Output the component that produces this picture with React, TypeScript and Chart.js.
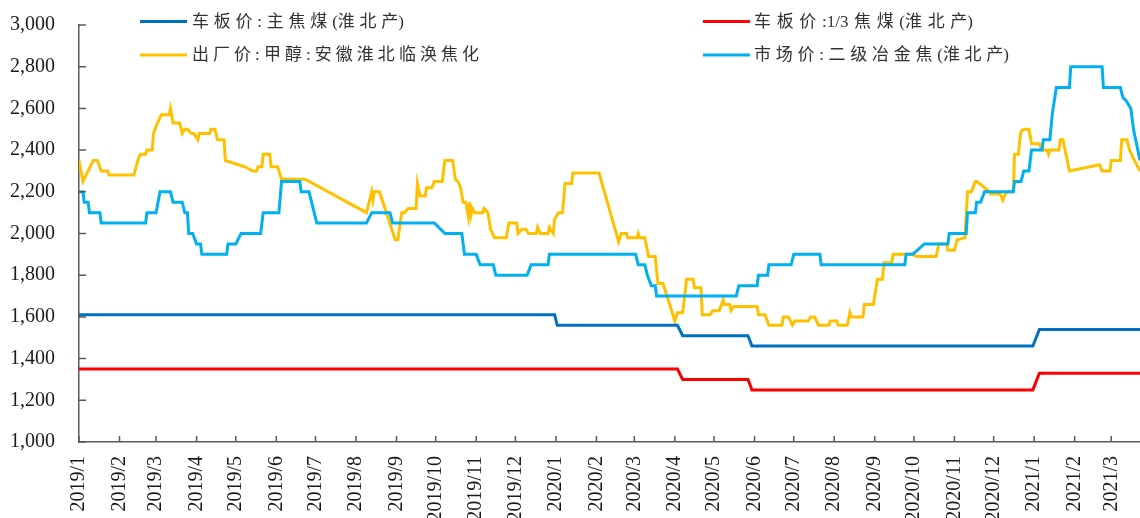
import React, { useEffect, useRef } from 'react';
import { Chart, registerables } from 'chart.js';

Chart.register(...registerables);

// ---------- DATA ----------
const SERIES_NAMES = [
  '车板价:主焦煤(淮北产)',
  '车板价:1/3焦煤(淮北产)',
  '出厂价:甲醇:安徽淮北临涣焦化',
  '市场价:二级冶金焦(淮北产)',
];

const MONTH_LABELS = [
  '2019/1', '2019/2', '2019/3', '2019/4', '2019/5', '2019/6', '2019/7', '2019/8', '2019/9', '2019/10', '2019/11', '2019/12',
  '2020/1', '2020/2', '2020/3', '2020/4', '2020/5', '2020/6', '2020/7', '2020/8', '2020/9', '2020/10', '2020/11', '2020/12',
  '2021/1', '2021/2', '2021/3',
];

const Y_MIN = 1000;
const Y_MAX = 3000;
const Y_STEP = 200;
const X_START = '2019-01-01';
const X_END = '2021-03-23';

const MAIN_COKING_COAL: [string, number][] = [
  ['2019-01-01', 1610], ['2019-12-31', 1610], ['2020-01-02', 1560], ['2020-04-03', 1560],
  ['2020-04-07', 1510], ['2020-05-27', 1510], ['2020-05-30', 1460], ['2020-12-31', 1460],
  ['2021-01-05', 1540], ['2021-03-23', 1540],
];

const COAL_1_3: [string, number][] = [
  ['2019-01-01', 1350], ['2020-04-03', 1350], ['2020-04-07', 1300], ['2020-05-27', 1300],
  ['2020-05-30', 1250], ['2020-12-31', 1250], ['2021-01-05', 1330], ['2021-03-23', 1330],
];

const METHANOL: [string, number][] = [
  ['2019-01-01', 2350], ['2019-01-04', 2250], ['2019-01-08', 2300], ['2019-01-12', 2350], ['2019-01-15', 2350],
  ['2019-01-18', 2300], ['2019-01-23', 2300], ['2019-01-24', 2280], ['2019-02-12', 2280], ['2019-02-15', 2350],
  ['2019-02-17', 2380], ['2019-02-21', 2380], ['2019-02-22', 2400], ['2019-02-26', 2400], ['2019-02-27', 2480],
  ['2019-03-02', 2530], ['2019-03-05', 2570], ['2019-03-11', 2570], ['2019-03-12', 2600], ['2019-03-14', 2530],
  ['2019-03-19', 2530], ['2019-03-21', 2480], ['2019-03-23', 2500], ['2019-03-25', 2500], ['2019-03-28', 2480],
  ['2019-03-30', 2480], ['2019-04-02', 2450], ['2019-04-03', 2480], ['2019-04-11', 2480], ['2019-04-12', 2500],
  ['2019-04-15', 2500], ['2019-04-17', 2450], ['2019-04-22', 2450], ['2019-04-23', 2350], ['2019-05-08', 2320],
  ['2019-05-14', 2300], ['2019-05-17', 2300], ['2019-05-18', 2320], ['2019-05-21', 2320], ['2019-05-22', 2380],
  ['2019-05-27', 2380], ['2019-05-28', 2320], ['2019-06-02', 2320], ['2019-06-05', 2260], ['2019-06-23', 2260],
  ['2019-08-09', 2100], ['2019-08-13', 2200], ['2019-08-14', 2160], ['2019-08-15', 2200], ['2019-08-19', 2200],
  ['2019-08-31', 1970], ['2019-09-02', 1970], ['2019-09-05', 2100], ['2019-09-07', 2100], ['2019-09-10', 2120],
  ['2019-09-16', 2120], ['2019-09-17', 2240], ['2019-09-19', 2180], ['2019-09-23', 2180], ['2019-09-24', 2220],
  ['2019-09-28', 2220], ['2019-09-30', 2250], ['2019-10-06', 2250], ['2019-10-08', 2350], ['2019-10-14', 2350],
  ['2019-10-16', 2260], ['2019-10-18', 2250], ['2019-10-20', 2220], ['2019-10-22', 2150], ['2019-10-24', 2150],
  ['2019-10-26', 2080], ['2019-10-27', 2150], ['2019-10-28', 2090], ['2019-10-29', 2120], ['2019-10-31', 2100],
  ['2019-11-06', 2100], ['2019-11-07', 2120], ['2019-11-10', 2100], ['2019-11-12', 2020], ['2019-11-15', 1980],
  ['2019-11-24', 1980], ['2019-11-26', 2050], ['2019-12-02', 2050], ['2019-12-03', 2000], ['2019-12-06', 2020],
  ['2019-12-09', 2020], ['2019-12-11', 2000], ['2019-12-17', 2000], ['2019-12-18', 2030], ['2019-12-20', 2000],
  ['2019-12-26', 2000], ['2019-12-27', 2030], ['2019-12-30', 2000], ['2019-12-31', 2070], ['2020-01-03', 2100],
  ['2020-01-06', 2100], ['2020-01-08', 2240], ['2020-01-13', 2240], ['2020-01-14', 2290], ['2020-02-03', 2290],
  ['2020-02-18', 1960], ['2020-02-20', 2000], ['2020-02-24', 2000], ['2020-02-25', 1980], ['2020-03-03', 1980],
  ['2020-03-04', 2000], ['2020-03-05', 1980], ['2020-03-09', 1980], ['2020-03-12', 1890], ['2020-03-17', 1890],
  ['2020-03-19', 1760], ['2020-03-23', 1760], ['2020-04-01', 1580], ['2020-04-03', 1620], ['2020-04-07', 1620],
  ['2020-04-10', 1780], ['2020-04-15', 1780], ['2020-04-16', 1740], ['2020-04-21', 1740], ['2020-04-22', 1610],
  ['2020-04-28', 1610], ['2020-04-30', 1630], ['2020-05-05', 1630], ['2020-05-08', 1680], ['2020-05-09', 1660],
  ['2020-05-13', 1660], ['2020-05-14', 1630], ['2020-05-16', 1650], ['2020-06-03', 1650], ['2020-06-04', 1610],
  ['2020-06-09', 1610], ['2020-06-12', 1560], ['2020-06-22', 1560], ['2020-06-23', 1600], ['2020-06-27', 1600],
  ['2020-06-30', 1560], ['2020-07-02', 1580], ['2020-07-12', 1580], ['2020-07-14', 1600], ['2020-07-17', 1600],
  ['2020-07-20', 1560], ['2020-07-28', 1560], ['2020-07-29', 1580], ['2020-08-03', 1580], ['2020-08-04', 1560],
  ['2020-08-11', 1560], ['2020-08-13', 1620], ['2020-08-14', 1600], ['2020-08-23', 1600], ['2020-08-24', 1660],
  ['2020-08-31', 1660], ['2020-09-02', 1740], ['2020-09-03', 1780], ['2020-09-07', 1780], ['2020-09-08', 1860],
  ['2020-09-14', 1860], ['2020-09-15', 1900], ['2020-09-30', 1900], ['2020-10-03', 1890], ['2020-10-18', 1890],
  ['2020-10-20', 1950], ['2020-10-26', 1950], ['2020-10-27', 1920], ['2020-11-01', 1920], ['2020-11-03', 1970],
  ['2020-11-09', 1980], ['2020-11-11', 2200], ['2020-11-14', 2200], ['2020-11-17', 2250], ['2020-11-18', 2250],
  ['2020-11-26', 2210], ['2020-11-29', 2190], ['2020-12-06', 2190], ['2020-12-08', 2160], ['2020-12-10', 2190],
  ['2020-12-12', 2200], ['2020-12-16', 2200], ['2020-12-17', 2380], ['2020-12-20', 2380], ['2020-12-21', 2450],
  ['2020-12-22', 2490], ['2020-12-24', 2500], ['2020-12-28', 2500], ['2020-12-30', 2430], ['2021-01-05', 2430],
  ['2021-01-07', 2400], ['2021-01-11', 2400], ['2021-01-12', 2380], ['2021-01-13', 2400], ['2021-01-20', 2400],
  ['2021-01-21', 2450], ['2021-01-23', 2450], ['2021-01-26', 2360], ['2021-01-28', 2300], ['2021-02-20', 2330],
  ['2021-02-22', 2300], ['2021-02-28', 2300], ['2021-03-01', 2350], ['2021-03-08', 2350], ['2021-03-09', 2450],
  ['2021-03-13', 2450], ['2021-03-15', 2400], ['2021-03-18', 2360], ['2021-03-23', 2300],
];

const MET_COKE: [string, number][] = [
  ['2019-01-01', 2200], ['2019-01-04', 2200], ['2019-01-05', 2150], ['2019-01-08', 2150], ['2019-01-09', 2100],
  ['2019-01-17', 2100], ['2019-01-18', 2050], ['2019-02-21', 2050], ['2019-02-22', 2100], ['2019-03-01', 2100],
  ['2019-03-04', 2200], ['2019-03-12', 2200], ['2019-03-14', 2150], ['2019-03-21', 2150], ['2019-03-23', 2100],
  ['2019-03-25', 2100], ['2019-03-26', 2000], ['2019-03-29', 2000], ['2019-04-01', 1950], ['2019-04-04', 1950],
  ['2019-04-05', 1900], ['2019-04-24', 1900], ['2019-04-25', 1950], ['2019-05-01', 1950], ['2019-05-05', 2000],
  ['2019-05-20', 2000], ['2019-05-22', 2100], ['2019-06-03', 2100], ['2019-06-05', 2250], ['2019-06-19', 2250],
  ['2019-06-20', 2200], ['2019-06-26', 2200], ['2019-06-28', 2150], ['2019-06-30', 2100], ['2019-07-02', 2050],
  ['2019-08-09', 2050], ['2019-08-13', 2100], ['2019-08-27', 2100], ['2019-08-29', 2050], ['2019-09-30', 2050],
  ['2019-10-08', 2000], ['2019-10-21', 2000], ['2019-10-23', 1900], ['2019-11-01', 1900], ['2019-11-04', 1850],
  ['2019-11-14', 1850], ['2019-11-16', 1800], ['2019-12-10', 1800], ['2019-12-13', 1850], ['2019-12-26', 1850],
  ['2019-12-27', 1900], ['2020-03-02', 1900], ['2020-03-04', 1850], ['2020-03-09', 1850], ['2020-03-11', 1800],
  ['2020-03-14', 1750], ['2020-03-17', 1750], ['2020-03-18', 1700], ['2020-05-18', 1700], ['2020-05-20', 1750],
  ['2020-06-03', 1750], ['2020-06-04', 1800], ['2020-06-11', 1800], ['2020-06-12', 1850], ['2020-06-29', 1850],
  ['2020-07-01', 1900], ['2020-07-21', 1900], ['2020-07-22', 1850], ['2020-09-24', 1850], ['2020-09-25', 1900],
  ['2020-09-30', 1900], ['2020-10-09', 1950], ['2020-10-27', 1950], ['2020-10-28', 2000], ['2020-11-10', 2000],
  ['2020-11-11', 2100], ['2020-11-17', 2100], ['2020-11-18', 2150], ['2020-11-21', 2150], ['2020-11-24', 2200],
  ['2020-12-16', 2200], ['2020-12-17', 2250], ['2020-12-22', 2250], ['2020-12-24', 2300], ['2020-12-28', 2300],
  ['2020-12-29', 2350], ['2020-12-30', 2400], ['2021-01-07', 2400], ['2021-01-08', 2450], ['2021-01-13', 2450],
  ['2021-01-15', 2580], ['2021-01-18', 2700], ['2021-01-28', 2700], ['2021-01-29', 2800], ['2021-02-22', 2800],
  ['2021-02-23', 2700], ['2021-03-08', 2700], ['2021-03-10', 2650], ['2021-03-12', 2640], ['2021-03-16', 2600],
  ['2021-03-18', 2500], ['2021-03-23', 2350],
];

// ---------- STYLE ----------
const COLORS = ['#0070C0', '#FF0000', '#FFC000', '#00B0F0'];
const AXIS_COLOR = '#595959';
const TEXT_COLOR = '#1a1a1a';
const NUM_FONT = '"Liberation Serif", "Times New Roman", serif';
const LEGEND_FONT = '"Liberation Serif", "Noto Sans CJK SC", serif';

const W = 1140;
const H = 518;
const PLOT_TOP = 25;
const PLOT_BOTTOM = 442;
const PLOT_LEFT = 79;

const START_MS = Date.UTC(2019, 0, 1);
const dayIndex = (s: string) => {
  const [y, m, d] = s.split('-').map(Number);
  return (Date.UTC(y, m - 1, d || 1) - START_MS) / 86400000;
};
const monthDay = (label: string) => {
  const [y, m] = label.split('/').map(Number);
  return (Date.UTC(y, m - 1, 1) - START_MS) / 86400000;
};
const toPoints = (arr: [string, number][]) => arr.map(([d, v]) => ({ x: dayIndex(d), y: v }));

// legend layout: [lineStartX, textX, centerY, textWidth] per series
const LEGEND_POS: [number, number, number, number][] = [
  [140, 192, 21.5, 212],
  [703, 754, 21.5, 219],
  [140, 192, 55, 287],
  [703, 754, 55, 255],
];

const isCJK = (ch: string) => /[\u3000-\u9fff\uff00-\uffef]/.test(ch);

const decorPlugin = {
  id: 'decor',
  afterDraw(chart: any) {
    const ctx: CanvasRenderingContext2D = chart.ctx;
    const { left, bottom } = chart.chartArea;
    const xs = chart.scales.x;
    const ys = chart.scales.y;
    ctx.save();
    ctx.strokeStyle = AXIS_COLOR;
    ctx.lineWidth = 1.5;
    ctx.beginPath();
    ys.ticks.forEach((t: any) => {
      const py = ys.getPixelForValue(t.value);
      ctx.moveTo(left, py);
      ctx.lineTo(left + 7, py);
    });
    xs.ticks.forEach((t: any) => {
      const px = xs.getPixelForValue(t.value);
      ctx.moveTo(px, bottom);
      ctx.lineTo(px, bottom - 6);
    });
    ctx.stroke();

    // legend
    ctx.font = `17px ${LEGEND_FONT}`;
    ctx.textBaseline = 'middle';
    ctx.textAlign = 'left';
    chart.data.datasets.forEach((ds: any) => {
      const idx = SERIES_NAMES.indexOf(ds.label);
      const [lx, tx, cy, tw] = LEGEND_POS[idx];
      ctx.strokeStyle = ds.borderColor;
      ctx.lineWidth = 3;
      ctx.beginPath();
      ctx.moveTo(lx, cy);
      ctx.lineTo(lx + 47, cy);
      ctx.stroke();
      const chars = Array.from(ds.label as string);
      const natural = ctx.measureText(ds.label).width;
      const gapAfter = chars.map((ch, i) => {
        const next = chars[i + 1];
        if (!next) return false;
        return (isCJK(ch) && next !== ')') || (isCJK(next) && ch !== '(');
      });
      const nGaps = gapAfter.filter(Boolean).length || 1;
      const extra = Math.max(0, (tw - natural) / nGaps);
      ctx.fillStyle = '#333333';
      let cx = tx;
      chars.forEach((ch, i) => {
        ctx.fillText(ch, cx, cy + 1);
        cx += ctx.measureText(ch).width + (gapAfter[i] ? extra : 0);
      });
    });
    ctx.restore();
  },
};

export default function App() {
  const ref = useRef<HTMLCanvasElement | null>(null);

  useEffect(() => {
    if (!ref.current) return;
    const seriesData = [MAIN_COKING_COAL, COAL_1_3, METHANOL, MET_COKE];
    const drawOrder = [1, 2, 3, 0];
    const chart = new Chart(ref.current, {
      type: 'line',
      data: {
        datasets: seriesData.map((s, i) => ({
          label: SERIES_NAMES[i],
          data: toPoints(s),
          borderColor: COLORS[i],
          backgroundColor: COLORS[i],
          borderWidth: 3,
          pointRadius: 0,
          pointHoverRadius: 0,
          tension: 0,
          fill: false,
          order: drawOrder[i],
        })),
      },
      options: {
        responsive: false,
        animation: false,
        devicePixelRatio: 1,
        layout: { padding: { top: PLOT_TOP, right: 0, left: 0, bottom: 0 } },
        plugins: {
          legend: { display: false },
          tooltip: { enabled: false },
        },
        scales: {
          x: {
            type: 'linear',
            min: dayIndex(X_START),
            max: dayIndex(X_END),
            grid: { display: false, drawTicks: false },
            border: { display: true, color: AXIS_COLOR, width: 1.5 },
            afterBuildTicks: (scale: any) => {
              scale.ticks = MONTH_LABELS.map((l) => ({ value: monthDay(l), label: l }));
            },
            afterFit: (scale: any) => {
              scale.height = H - PLOT_BOTTOM;
              scale.paddingLeft = 0;
              scale.paddingRight = 0;
            },
            ticks: {
              autoSkip: false,
              maxRotation: 90,
              minRotation: 90,
              padding: 14,
              color: TEXT_COLOR,
              font: { family: NUM_FONT, size: 20 },
              callback: (value: any) => {
                const i = MONTH_LABELS.findIndex((l) => monthDay(l) === value);
                return i >= 0 ? MONTH_LABELS[i] : '';
              },
            },
          },
          y: {
            min: Y_MIN,
            max: Y_MAX,
            grid: { display: false, drawTicks: false },
            border: { display: true, color: AXIS_COLOR, width: 1.5 },
            afterFit: (scale: any) => {
              scale.width = PLOT_LEFT;
              scale.paddingTop = 0;
              scale.paddingBottom = 0;
            },
            ticks: {
              stepSize: Y_STEP,
              padding: 24,
              color: TEXT_COLOR,
              font: { family: NUM_FONT, size: 20 },
              callback: (v: any) => Number(v).toLocaleString('en-US'),
            },
          },
        },
      },
      plugins: [decorPlugin],
    });
    return () => chart.destroy();
  }, []);

  return (
    <div style={{ position: 'absolute', left: 0, top: 0, width: W, height: H, background: '#fff' }}>
      <canvas ref={ref} width={W} height={H} style={{ display: 'block' }} />
    </div>
  );
}
